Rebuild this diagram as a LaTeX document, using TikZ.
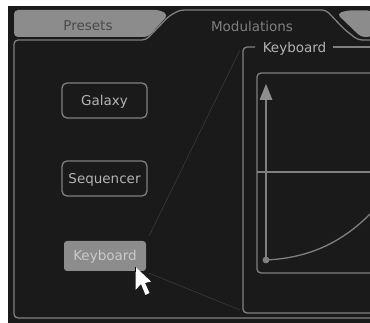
\documentclass[tikz,border=0pt]{standalone}
\usepackage{fontspec}
\setmainfont{DejaVu Sans}
\definecolor{panel}{HTML}{1A1A1A}
\definecolor{edge}{HTML}{808080}
\definecolor{tabfill}{HTML}{8C8C8C}
\definecolor{tabtext}{HTML}{4A4A4A}
\definecolor{soft}{HTML}{B4B4B4}
\definecolor{faint}{HTML}{3A3A3A}
\tikzset{
  outline/.style={draw=edge,line width=1.3pt,rounded corners=4pt},
  btn/.style={outline,minimum width=85pt,minimum height=35pt,inner sep=0pt,text=soft,text height=11.5pt,text depth=1.5pt,font=\fontsize{13.5}{15}\selectfont,rounded corners=5pt},
  btnon/.style={fill=tabfill,text=soft!70!white,minimum width=82pt,minimum height=30pt,inner sep=0pt,text height=11.5pt,text depth=1.5pt,rounded corners=3pt,font=\fontsize{13.5}{15}\selectfont},
  lbl/.style={inner sep=0pt,font=\fontsize{13.5}{15}\selectfont},
  link/.style={draw=faint,line width=0.6pt}
}
\begin{document}
\begin{tikzpicture}[x=1pt,y=-1pt]
\useasboundingbox (0,0) rectangle (370,323);
\fill[white] (0,0) rectangle (370,323);
\fill[panel] (8,6) rectangle (370,323);
% inactive tabs
\fill[tabfill,rounded corners=4pt] (14,37) -- (14,10) -- (160,10) -- (168,15) -- (148,37) -- cycle;
\fill[tabfill,rounded corners=4pt] (372,10.5) -- (346,10.5) -- (337,14) -- (361,37) -- (372,37) -- cycle;
% main outline
\draw[outline] (372,40) -- (358,40) -- (344,29) -- (326,10) -- (180,10) -- (169,16) -- (146,40) -- (14,40) -- (14,318) -- (372,318);
% labels of tabs
\node[lbl,text=tabtext] (presets) at (88,26) {Presets};
\node[lbl,text=edge] (modul) at (252,26) {Modulations};
% keyboard frame
\node[lbl,text=soft] (frametitle) at (294.5,48.5) {Keyboard};
\coordinate (fa) at (255,47);
\coordinate (fb) at (333,47);
\coordinate (fc) at (372,47);
\coordinate (fd) at (372,313);
\draw[outline] (fa) -- (243,47) -- (243,313) -- (fd);
\draw[outline] (fb) -- (fc);
% graph
\draw[outline] (372,73) -- (257,73) -- (257,273) -- (372,273);
\coordinate (gl) at (257,172);
\coordinate (gr) at (372,172);
\draw[edge,line width=1.3pt] (gl) -- (gr);
\coordinate (origin) at (266,260);
\coordinate (top) at (266,99);
\draw[edge,line width=1.3pt] (origin) -- (top);
\fill[edge!90!white] (266,84) -- (272.5,100) -- (259.5,100) -- cycle;
\fill[edge] (origin) circle (3.4pt);
\coordinate (cend) at (372,212);
\draw[edge,line width=1.3pt] (origin) .. controls (312,258) and (345,240) .. (cend);
% buttons
\node[btn] (galaxy) at (104.5,100.5) {Galaxy};
\node[btn] (seq) at (104.5,178.5) {Sequencer};
\node[btnon] (kb) at (105,256) {Keyboard};
% links
\coordinate (kta) at (240,50);
\coordinate (ktb) at (240,310);
\draw[link] (kb.north east) ++(3,-5) -- (kta);
\draw[link] (kb.south east) ++(3,2) -- (ktb);
% cursor
\fill[white] (135.5,267) -- (135.5,290) -- (141,284) -- (145.5,295) -- (149.5,293) -- (145,283) -- (151,281.5) -- cycle;
\draw[black,line width=0.6pt] (135.5,267) -- (135.5,272);
\end{tikzpicture}
\end{document}
